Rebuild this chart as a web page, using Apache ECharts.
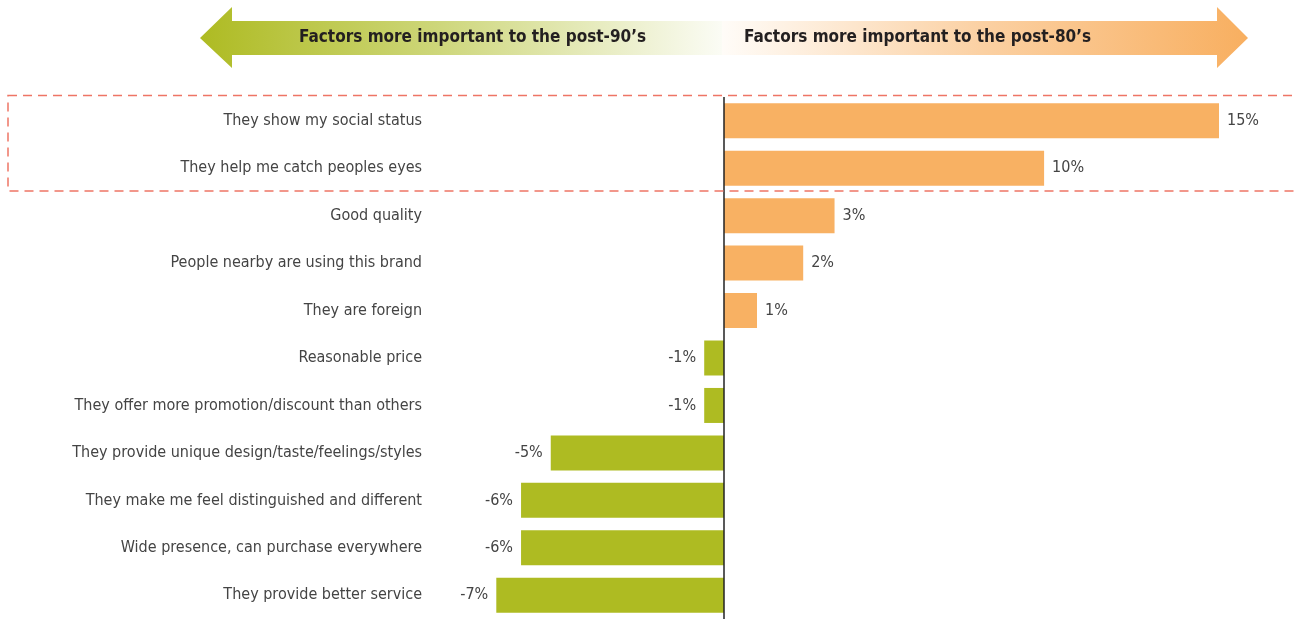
<!DOCTYPE html>
<html>
<head>
<meta charset="utf-8">
<script src="https://cdn.jsdelivr.net/npm/echarts@6/dist/echarts.min.js"></script>
<style>
  html, body { margin: 0; padding: 0; background: #fff; }
  #chart { width: 1296px; height: 619px; }
</style>
</head>
<body>
<div id="chart"></div>
<script>
var categories = [
  'They show my social status',
  'They help me catch peoples eyes',
  'Good quality',
  'People nearby are using this brand',
  'They are foreign',
  'Reasonable price',
  'They offer more promotion/discount than others',
  'They provide unique design/taste/feelings/styles',
  'They make me feel distinguished and different',
  'Wide presence, can purchase everywhere',
  'They provide better service'
]
// difference post-80s minus post-90s, in %
var diffValues = [15.0, 9.7, 3.35, 2.4, 1.0, -0.6, -0.6, -5.25, -6.15, -6.15, -6.9]

var headLeft = 'Factors more important to the post-90\u2019s'
var headRight = 'Factors more important to the post-80\u2019s'

var ORANGE = '#f8b163'
var GREEN = '#aebb22'
var FONT = '"Liberation Sans Narrow", "DejaVu Sans Condensed", sans-serif'

var chart = echarts.init(document.getElementById('chart'))

var barData = diffValues.map(function (v) {
  return {
    value: v,
    itemStyle: { color: v >= 0 ? ORANGE : GREEN },
    label: { position: v >= 0 ? 'right' : 'left' }
  }
})

var option = {
  animation: false,
  grid: { left: 460, right: 11, top: 97, bottom: -1 },
  xAxis: {
    type: 'value',
    min: -8,
    max: 17,
    show: false,
    splitLine: { show: false }
  },
  yAxis: {
    type: 'category',
    inverse: true,
    data: categories,
    axisLine: { show: false },
    axisTick: { show: false },
    axisLabel: {
      margin: 38,
      fontFamily: FONT,
      fontSize: 16,
      color: '#444'
    }
  },
  series: [{
    type: 'bar',
    barWidth: 35,
    data: barData,
    label: {
      show: true,
      distance: 8,
      fontFamily: FONT,
      fontSize: 16,
      color: '#444',
      formatter: function (p) { return Math.round(p.value) + '%' }
    },
    markLine: {
      silent: true,
      symbol: 'none',
      label: { show: false },
      lineStyle: { color: '#222', width: 1.5, type: 'solid' },
      data: [{ xAxis: 0 }]
    }
  }],
  graphic: [
    {
      type: 'polygon',
      shape: { points: [[200, 38], [232, 7], [232, 21], [722, 21], [722, 55], [232, 55], [232, 68]] },
      style: {
        fill: new echarts.graphic.LinearGradient(0, 0, 1, 0, [
          { offset: 0, color: '#aebb22' },
          { offset: 0.45, color: '#cdd679' },
          { offset: 1, color: '#fbfcf5' }
        ])
      }
    },
    {
      type: 'polygon',
      shape: { points: [[722, 21], [1217, 21], [1217, 7], [1248, 38], [1217, 68], [1217, 55], [722, 55]] },
      style: {
        fill: new echarts.graphic.LinearGradient(0, 0, 1, 0, [
          { offset: 0, color: '#fffcf8' },
          { offset: 0.5, color: '#fbd0a2' },
          { offset: 1, color: '#f8af60' }
        ])
      }
    },
    {
      type: 'text',
      left: 299,
      top: 29,
      style: { text: headLeft, fontFamily: FONT, fontSize: 17, fontWeight: 'bold', fill: '#231f20' }
    },
    {
      type: 'text',
      left: 744,
      top: 29,
      style: { text: headRight, fontFamily: FONT, fontSize: 17, fontWeight: 'bold', fill: '#231f20' }
    },
    {
      type: 'rect',
      shape: { x: 8, y: 95.5, width: 1300, height: 95.5 },
      style: { fill: 'none', stroke: '#ee7565', lineWidth: 1.5, lineDash: [9, 6] },
      z: 10
    }
  ]
}

chart.setOption(option)
</script>
</body>
</html>
